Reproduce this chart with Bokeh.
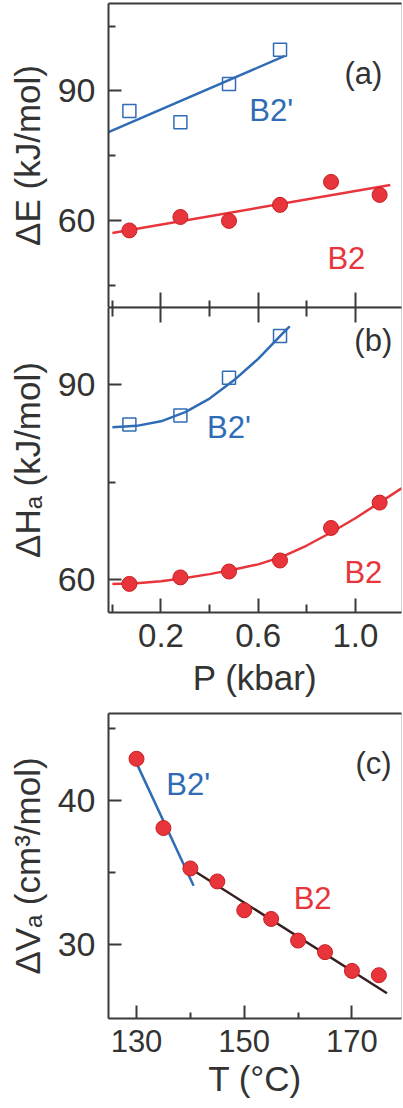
from bokeh.plotting import figure
from bokeh.models import LinearAxis, FixedTicker, Label, Range1d
from bokeh.layouts import column
from bokeh.embed import file_html
from bokeh.resources import INLINE

# ---------------- data ----------------
# Panel (a): activation energy vs pressure
P_b2p = [0.07, 0.28, 0.48, 0.69]
E_b2p = [85.4, 82.8, 91.6, 99.5]
P_b2 = [0.07, 0.28, 0.48, 0.69, 0.90, 1.10]
E_b2 = [57.8, 60.9, 60.0, 63.7, 69.0, 66.0]
fitE_b2p_P = [-0.016, 0.71]
fitE_b2p = [80.5, 98.1]
fitE_b2_P = [0.0, 1.144]
fitE_b2 = [57.2, 68.3]

# Panel (b): activation enthalpy vs pressure
H_b2p = [83.9, 85.3, 91.1, 97.5]
H_b2 = [59.4, 60.4, 61.3, 63.0, 68.0, 71.9]
curveH_b2p_P = [0.0, 0.1, 0.2, 0.3, 0.4, 0.5, 0.6, 0.7, 0.73]
curveH_b2p = [83.5, 83.7, 84.4, 85.8, 87.9, 90.7, 94.0, 97.9, 99.0]
curveH_b2_P = [0.0, 0.1, 0.2, 0.3, 0.4, 0.5, 0.6, 0.7, 0.8, 0.9, 1.0, 1.1, 1.19]
curveH_b2 = [59.4, 59.5, 59.8, 60.3, 60.9, 61.6, 62.4, 63.6, 65.3, 67.3, 69.5, 71.9, 74.1]

# Panel (c): activation volume vs temperature
T = [130, 135, 140, 145, 150, 155, 160, 165, 170, 175]
V = [42.9, 38.1, 35.3, 34.4, 32.4, 31.8, 30.3, 29.5, 28.2, 27.9]
fitV_b2p_T = [130, 140.6]
fitV_b2p = [42.6, 34.1]
fitV_b2_T = [140, 176.5]
fitV_b2 = [35.3, 26.65]

# ticks
P_major = [0.2, 0.6, 1.0]
P_minor = [0.0, 0.4, 0.8]
P_labels = ["0.2", "0.6", "1.0"]
T_major = [130, 150, 170]
T_minor = [140, 160]
T_labels = ["130", "150", "170"]
E_major, E_minor = [60, 90], [45, 75, 105]
H_major, H_minor = [60, 90], [75]
V_major, V_minor = [30, 40], [35, 45]

# ---------------- style ----------------
FONT = "Liberation Sans"
AX = "#3a3a3a"
BLUE = "#2f6cb5"
RED = "#e8353b"
DARK = "#33201f"
TXT = "#333333"


def base_fig(height, xr, yr, top, bottom):
    p = figure(width=403, height=height, x_range=Range1d(*xr), y_range=Range1d(*yr),
               output_backend="svg", toolbar_location=None,
               x_axis_location=None, y_axis_location=None,
               min_border_left=108, min_border_right=2,
               min_border_top=top, min_border_bottom=bottom)
    p.grid.visible = False
    p.outline_line_color = "#d4d4d4"
    p.outline_line_width = 1
    p.background_fill_color = "white"
    p.border_fill_color = "white"
    return p


def style_axis(ax, major_in=14, minor_in=7, label_size="33px", standoff=10):
    ax.axis_line_color = AX
    ax.axis_line_width = 2
    ax.major_tick_line_color = AX
    ax.major_tick_line_width = 2
    ax.minor_tick_line_color = AX
    ax.minor_tick_line_width = 2
    ax.major_tick_in = major_in
    ax.major_tick_out = 0
    ax.minor_tick_in = minor_in
    ax.minor_tick_out = 0
    ax.major_label_text_font = FONT
    ax.major_label_text_font_size = label_size
    ax.major_label_text_color = TXT
    ax.major_label_standoff = standoff
    ax.axis_label_text_font = FONT
    ax.axis_label_text_font_size = "35px"
    ax.axis_label_text_font_style = "normal"
    ax.axis_label_text_color = TXT
    return ax


def y_axis(p, major, minor, label):
    ax = LinearAxis(ticker=FixedTicker(ticks=major, minor_ticks=minor), axis_label=label)
    style_axis(ax, 13, 7, "34px", 13)
    ax.axis_label_standoff = 8
    p.add_layout(ax, "left")


def bare_axis(p, side, major, minor, major_in, minor_in):
    ax = LinearAxis(ticker=FixedTicker(ticks=major, minor_ticks=minor))
    style_axis(ax, major_in, minor_in, "0px", 0)
    ax.major_label_overrides = {t: "" for t in major}
    p.add_layout(ax, side)


def x_axis(p, major, minor, labels, title, major_in, minor_in, size, title_off):
    ax = LinearAxis(ticker=FixedTicker(ticks=major, minor_ticks=minor), axis_label=title)
    style_axis(ax, major_in, minor_in, size, 11)
    ax.major_label_overrides = dict(zip(major, labels))
    ax.axis_label_text_font_size = "35px"
    ax.axis_label_standoff = title_off
    p.add_layout(ax, "below")


def label(p, x, y, text, color, size="31px"):
    p.add_layout(Label(x=x, y=y, text=text, text_color=color, text_font=FONT,
                       text_font_size=size, text_align="center", text_baseline="middle"))


# ---------------- panel (a) ----------------
pa = base_fig(307, (-0.016, 1.19), (40, 110.2), 3, 0)
y_axis(pa, E_major, E_minor, "ΔE (kJ/mol)")
bare_axis(pa, "below", P_major, P_minor, 15, 7)
bare_axis(pa, "above", [], [], 0, 0)
pa.line(fitE_b2p_P, fitE_b2p, line_color=BLUE, line_width=2.5)
pa.line(fitE_b2_P, fitE_b2, line_color=RED, line_width=2.5)
pa.scatter(P_b2p, E_b2p, marker="square", size=13, fill_color=None,
           line_color=BLUE, line_width=1.5)
pa.scatter(P_b2, E_b2, marker="circle", size=15, fill_color=RED,
           line_color="#c81e24", line_width=1)
label(pa, 1.033, 94.1, "(a)", TXT)
label(pa, 0.654, 85.4, "B2'", BLUE)
label(pa, 0.963, 51.3, "B2", RED)

# ---------------- panel (b) ----------------
pb = base_fig(398, (-0.016, 1.19), (55, 101.9), 0, 93)
y_axis(pb, H_major, H_minor, "ΔHₐ (kJ/mol)")
bare_axis(pb, "above", P_major, P_minor, 15, 9)
x_axis(pb, P_major, P_minor, P_labels, "P (kbar)", 14, 8, "33px", 8)
pb.line(curveH_b2p_P, curveH_b2p, line_color=BLUE, line_width=2.5)
pb.line(curveH_b2_P, curveH_b2, line_color=RED, line_width=2.5)
pb.scatter(P_b2p, H_b2p, marker="square", size=13, fill_color=None,
           line_color=BLUE, line_width=1.5)
pb.scatter(P_b2, H_b2, marker="circle", size=15, fill_color=RED,
           line_color="#c81e24", line_width=1)
label(pb, 1.074, 96.8, "(b)", TXT)
label(pb, 0.48, 83.5, "B2'", BLUE)
label(pb, 1.033, 61.2, "B2", RED)

# ---------------- panel (c) ----------------
pc = base_fig(403, (124.8, 179.2), (24.9, 46.04), 8, 90)
y_axis(pc, V_major, V_minor, "ΔVₐ (cm³/mol)")
bare_axis(pc, "above", [], [], 0, 0)
x_axis(pc, T_major, T_minor, T_labels, "T (°C)", 13, 6, "31px", 4)
pc.line(fitV_b2p_T, fitV_b2p, line_color=BLUE, line_width=2.5)
pc.line(fitV_b2_T, fitV_b2, line_color=DARK, line_width=2.5)
pc.scatter(T, V, marker="circle", size=15, fill_color=RED,
           line_color="#c81e24", line_width=1)
label(pc, 174.0, 42.6, "(c)", TXT)
label(pc, 139.6, 41.1, "B2'", BLUE)
label(pc, 162.7, 33.2, "B2", RED)

layout = column(pa, pb, pc, spacing=0)
open("out.html", "w", encoding="utf-8").write(file_html(layout, INLINE))
